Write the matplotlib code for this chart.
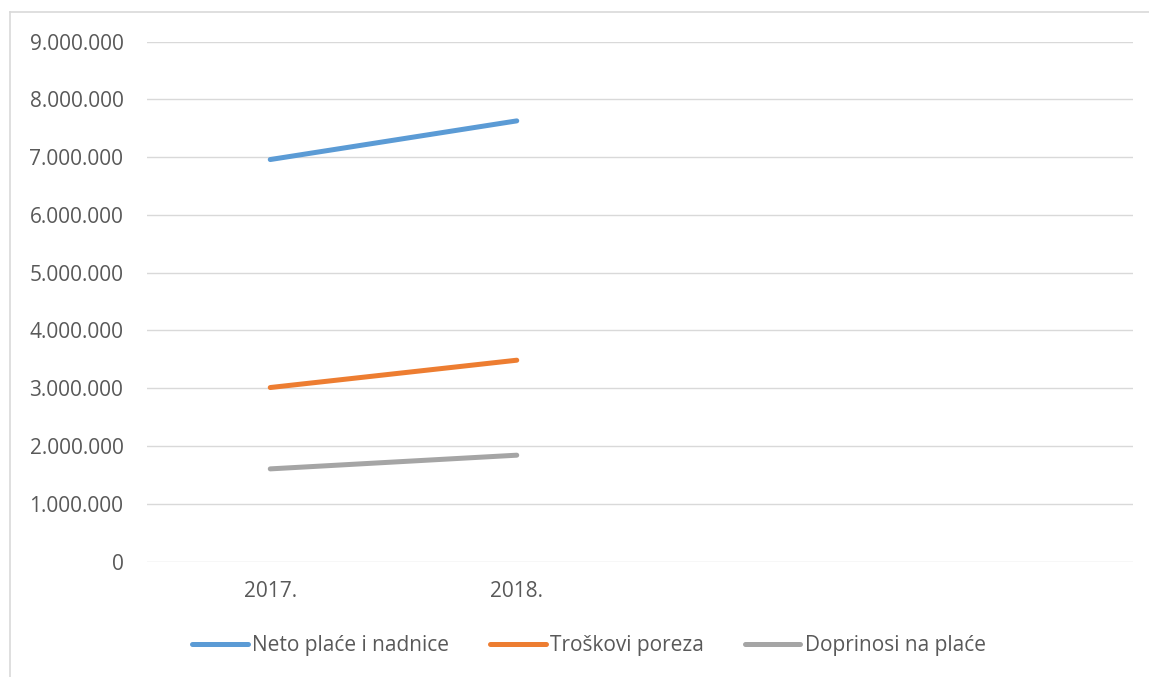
import matplotlib.pyplot as plt
from matplotlib.ticker import FuncFormatter

# categories (Excel chart keeps two empty slots on the right)
years = ["2017.", "2018.", "", ""]
neto = [6957000, 7626000]
troskovi = [3011000, 3484000]
doprinosi = [1603000, 1840000]
series_names = ["Neto plaće i nadnice", "Troškovi poreza", "Doprinosi na plaće"]
colors = ["#5B9BD5", "#ED7D31", "#A5A5A5"]

plt.rcParams["font.family"] = ["Open Sans", "DejaVu Sans"]
text_color = "#595959"

fig = plt.figure(figsize=(11.49, 6.77), dpi=100)
W, H = 1149, 677
ax = fig.add_axes([147 / W, 1 - 561.5 / H, (1133 - 147) / W, (561.5 - 41.5) / H])

x = list(range(len(years)))
for vals, name, c in zip([neto, troskovi, doprinosi], series_names, colors):
    ax.plot(x[:len(vals)], vals, color=c, lw=3.6, solid_capstyle="round", label=name)

ax.set_xlim(-0.5, len(years) - 0.5)
ax.set_ylim(0, 9000000)
ax.set_yticks(range(0, 9000001, 1000000))
ax.yaxis.set_major_formatter(FuncFormatter(lambda v, p: f"{int(v):,}".replace(",", ".")))
ax.set_xticks(x)
ax.set_xticklabels(years)
ax.grid(axis="y", color="#D9D9D9", lw=1)
ax.set_axisbelow(True)
for s in ax.spines.values():
    s.set_visible(False)
ax.tick_params(length=0, labelsize=15, colors=text_color)
ax.tick_params(axis="y", pad=17)
ax.tick_params(axis="x", pad=14)

leg = fig.legend(loc="center", bbox_to_anchor=(589 / W, 1 - 646 / H), ncol=3, frameon=False,
                 fontsize=15, handlelength=2.65, handletextpad=0.2, columnspacing=2.0)
for t in leg.get_texts():
    t.set_color(text_color)

# chart area border (left and top visible in the crop)
fig.add_artist(plt.Line2D([10 / W, 10 / W], [0, 1 - 12 / H], color="#D9D9D9", lw=1.2,
                          transform=fig.transFigure))
fig.add_artist(plt.Line2D([10 / W, 1], [1 - 12 / H, 1 - 12 / H], color="#D9D9D9", lw=1.2,
                          transform=fig.transFigure))

fig.savefig("out.png", dpi=100)
